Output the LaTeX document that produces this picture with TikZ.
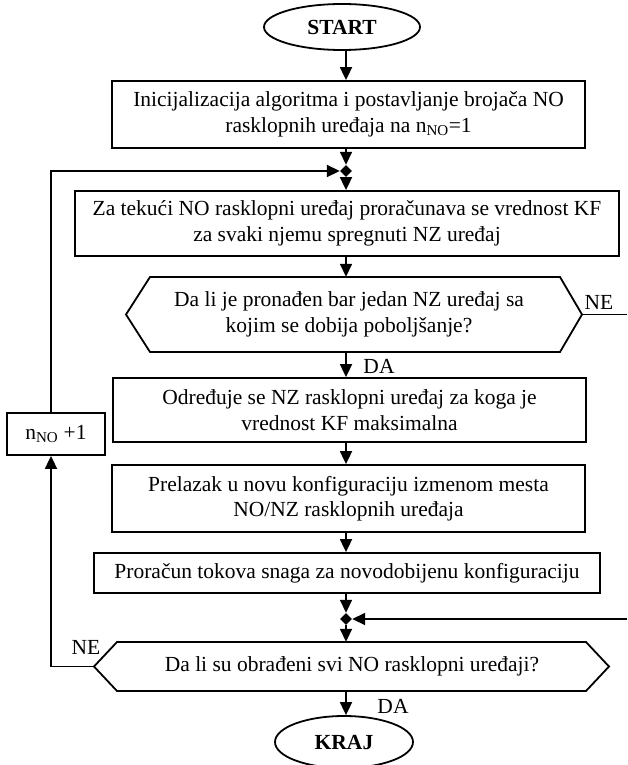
\documentclass[tikz,border=0pt]{standalone}
\usepackage{fontspec}
\setmainfont{Liberation Serif}
\usetikzlibrary{shapes.geometric,arrows.meta,calc}
\begin{document}
\begin{tikzpicture}[x=1pt,y=-1pt,
  fc/.style={font=\fontsize{21.5}{25.5}\selectfont},
  proc/.style={draw, line width=1.8pt, align=center, inner sep=0pt, fc},
  term/.style={ellipse, draw, line width=1.8pt, inner sep=0pt, font=\fontsize{21.5}{25.5}\selectfont\bfseries},
  junc/.style={diamond, fill=black, inner sep=0pt, minimum size=12pt},
  ln/.style={line width=1.8pt},
  arr/.style={line width=1.8pt, -{Triangle[length=13pt,width=12pt]}},
  lbl/.style={fc, inner sep=0pt}]
\useasboundingbox (0,0) rectangle (627,765);

\node[term, minimum width=156pt, minimum height=46pt] (start) at (342,27) {START};
\node[proc, minimum width=473pt, minimum height=67pt] (b1) at (348.5,114.5)
  {Inicijalizacija algoritma i postavljanje brojača NO\\ rasklopnih uređaja na n\textsubscript{NO}=1};
\node[junc] (j1) at (346,171) {};
\node[proc, minimum width=544pt, minimum height=65pt] (b2) at (347,223.5)
  {Za tekući NO rasklopni uređaj proračunava se vrednost KF\\ za svaki njemu spregnuti NZ uređaj};
\node[fc, align=center, inner sep=0pt, minimum height=75pt] (d1) at (349,314.5)
  {Da li je pronađen bar jedan NZ uređaj sa\\ kojim se dobija poboljšanje?};
\draw[ln] (150,277) -- (560,277) -- (582,314.5) coordinate (d1r) -- (560,352) -- (150,352) -- (126,314.5) coordinate (d1l) -- cycle;
\node[proc, minimum width=473pt, minimum height=64pt] (b3) at (349.5,410)
  {Određuje se NZ rasklopni uređaj za koga je\\ vrednost KF maksimalna};
\node[proc, minimum width=473pt, minimum height=67pt] (b4) at (348.5,498.5)
  {Prelazak u novu konfiguraciju izmenom mesta\\ NO/NZ rasklopnih uređaja};
\node[proc, minimum width=506pt, minimum height=40pt] (b5) at (347,573)
  {Proračun tokova snaga za novodobijenu konfiguraciju};
\node[junc] (j2) at (346,619) {};
\node[fc, align=center, inner sep=0pt, minimum height=49pt] (d2) at (352,666.5)
  {Da li su obrađeni svi NO rasklopni uređaji?};
\draw[ln] (117,642) -- (586,642) -- (609,666.5) coordinate (d2r) -- (586,691) -- (117,691) -- (94,666.5) coordinate (d2l) -- cycle;
\node[term, minimum width=138pt, minimum height=52pt] (kraj) at (344,742) {KRAJ};
\node[proc, minimum width=98pt, minimum height=42pt] (nno) at (56,434) {n\textsubscript{NO} +1};

\coordinate (c1) at (51,171);
\coordinate (c2) at (51,666.5);
\coordinate (e1) at (627,314.5);
\coordinate (e2) at (627,619);

\draw[arr] (start.south -| j1) -- (b1.north -| j1);
\draw[arr] (b1.south -| j1) -- (j1.north);
\draw[arr] (j1.south) -- (b2.north -| j1);
\draw[arr] (b2.south -| j1) -- (d1.north -| j1);
\draw[arr] (d1.south -| j1) -- (b3.north -| j1);
\draw[arr] (b3.south -| j1) -- (b4.north -| j1);
\draw[arr] (b4.south -| j1) -- (b5.north -| j1);
\draw[arr] (b5.south -| j2) -- (j2.north);
\draw[arr] (j2.south) -- (d2.north -| j2);
\draw[arr] (d2.south -| j2) -- (kraj.north -| j2);
\draw[ln] (d1r) -- (e1);
\draw[arr] (e2) -- (j2.east);
\draw[arr] (d2l) -- (c2) -- (nno.south -| c2);
\draw[arr] (nno.north -| c2) -- (c1) -- (j1.west);

\node[lbl] (ne1) at (599,302) {NE};
\node[lbl] (da1) at (379,366) {DA};
\node[lbl] (ne2) at (86,647) {NE};
\node[lbl] (da2) at (393,706) {DA};
\end{tikzpicture}
\end{document}
